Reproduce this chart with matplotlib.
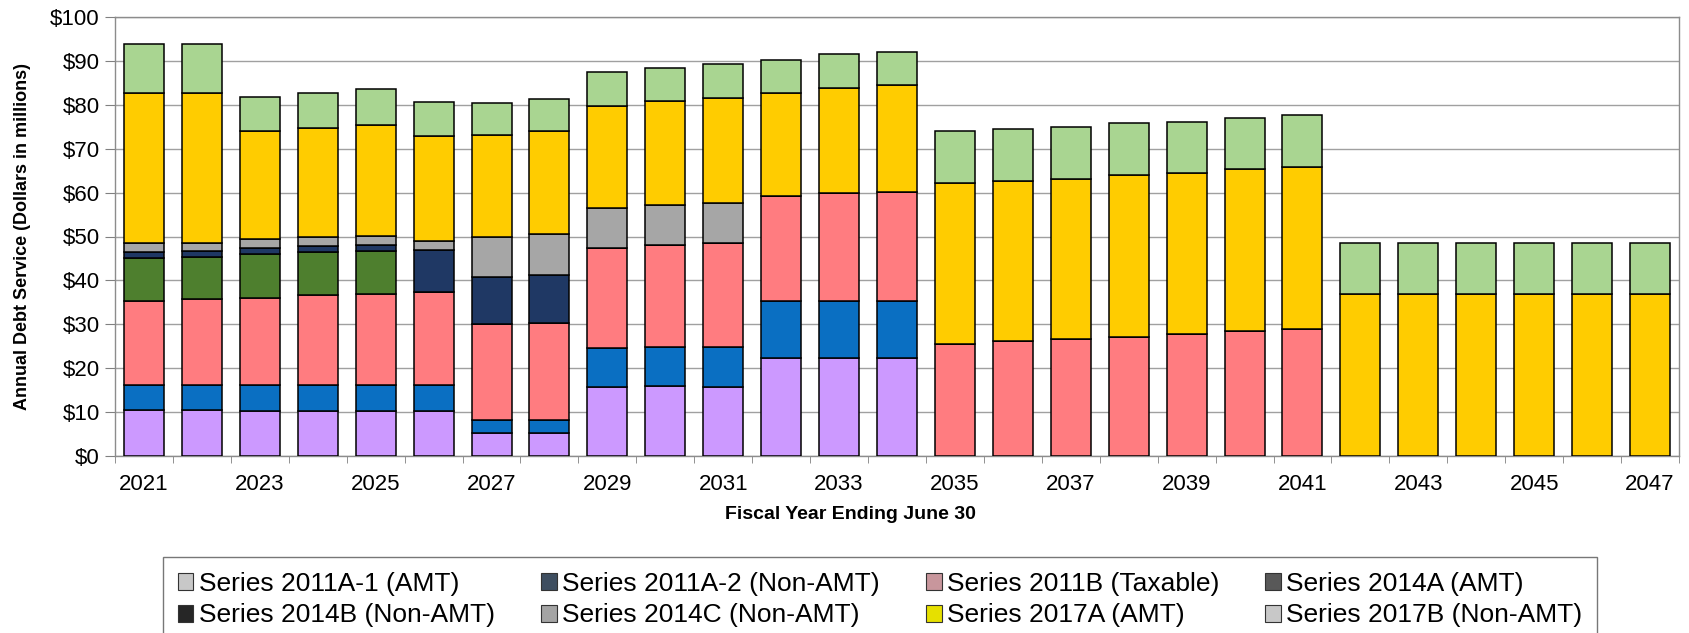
import matplotlib
matplotlib.use("Agg")
import matplotlib.pyplot as plt
from matplotlib.patches import Patch
from matplotlib.ticker import FixedLocator, FuncFormatter
import numpy as np

plt.rcParams['font.family'] = ['Liberation Sans', 'DejaVu Sans']

# fiscal years and annual debt service by bond series ($ millions)
years = list(range(2021, 2048))

s2011a1 = [10.4, 10.4, 10.2, 10.2, 10.2, 10.2, 5.3, 5.3, 15.7, 15.9, 15.7, 22.4, 22.4, 22.3] + [0] * 13
s2011a2 = [5.7, 5.7, 5.9, 5.9, 5.9, 5.9, 2.9, 2.9, 8.8, 8.9, 9.1, 12.8, 13.0, 12.9] + [0] * 13
s2011b = [19.3, 19.7, 20.0, 20.5, 20.9, 21.2, 21.8, 22.0, 22.8, 23.2, 23.7, 24.0, 24.4, 24.9,
          25.4, 26.1, 26.7, 27.1, 27.8, 28.4, 29.0] + [0] * 6
s2014a = [9.7, 9.5, 9.8, 9.8, 9.6] + [0] * 22
s2014b = [1.3, 1.3, 1.4, 1.5, 1.5, 9.7, 10.8, 11.1] + [0] * 19
s2014c = [2.2, 2.0, 2.1, 1.9, 2.1, 2.0, 9.1, 9.3, 9.1, 9.1, 9.2] + [0] * 16
s2017a = [34.1, 34.1, 24.6, 25.0, 25.2, 24.0, 23.2, 23.4, 23.4, 23.7, 23.9, 23.6, 24.0, 24.3,
          36.9, 36.6, 36.5, 36.9, 36.7, 36.9, 36.8] + [36.9] * 6
s2017b = [11.2, 11.2, 7.8, 7.8, 8.2, 7.6, 7.4, 7.4, 7.6, 7.6, 7.8, 7.5, 7.7, 7.7,
          11.7, 11.8, 11.8, 11.8, 11.6, 11.7, 11.8] + [11.7] * 6

series = [
    ("Series 2011A-1 (AMT)", s2011a1, "#CC99FF", "#C8C8C8"),
    ("Series 2011A-2 (Non-AMT)", s2011a2, "#0A6FC2", "#3E4E60"),
    ("Series 2011B (Taxable)", s2011b, "#FF7C80", "#C8969C"),
    ("Series 2014A (AMT)", s2014a, "#4E7F2E", "#585858"),
    ("Series 2014B (Non-AMT)", s2014b, "#1F3864", "#262626"),
    ("Series 2014C (Non-AMT)", s2014c, "#A6A6A6", "#A4A4A4"),
    ("Series 2017A (AMT)", s2017a, "#FFCC00", "#E6E000"),
    ("Series 2017B (Non-AMT)", s2017b, "#A9D591", "#C8C8C8"),
]

fig = plt.figure(figsize=(16.9, 6.33), dpi=100)
ax = fig.add_axes([115 / 1690, 1 - 456 / 633, 1564 / 1690, 439 / 633])

x = np.arange(len(years))
bottom = np.zeros(len(years))
handles = []
for name, vals, col, legcol in series:
    v = np.array(vals, dtype=float)
    ax.bar(x, v, width=0.69, bottom=bottom, color=col, edgecolor='black',
           linewidth=1.1, zorder=3)
    bottom += v
    handles.append(Patch(facecolor=legcol, edgecolor='#333333', linewidth=0.8, label=name))

ax.set_xlim(-0.5, len(years) - 0.5)
ax.set_ylim(0, 100)
ax.set_yticks(np.arange(0, 101, 10))
ax.yaxis.set_major_formatter(FuncFormatter(lambda v, p: f"${v:.0f}"))
ax.grid(axis='y', color='#A0A0A0', linewidth=1.0, zorder=0)

ax.xaxis.set_major_locator(FixedLocator(x[::2]))
ax.set_xticklabels([str(y) for y in years[::2]])
ax.xaxis.set_minor_locator(FixedLocator(np.arange(-0.5, len(years), 1.0)))
ax.tick_params(axis='x', which='major', length=0, pad=13, labelsize=16)
ax.tick_params(axis='x', which='minor', length=5, color='#808080', direction='out')
ax.tick_params(axis='y', length=7, color='#808080', labelsize=16, pad=4)

for s in ax.spines.values():
    s.set_color('#8C8C8C')
    s.set_linewidth(1.0)

ax.set_ylabel("Annual Debt Service (Dollars in millions)", fontsize=13, fontweight='bold')
ax.yaxis.set_label_coords(-0.054, 0.5)
ax.set_xlabel("Fiscal Year Ending June 30", fontsize=14, fontweight='bold')
ax.xaxis.set_label_coords((850 - 115) / 1564, -0.115)

# legend in row-major order across four columns
order = [0, 4, 1, 5, 2, 6, 3, 7]
leg = fig.legend([handles[i] for i in order], [handles[i].get_label() for i in order],
                 ncol=4, loc='upper left', bbox_to_anchor=(163 / 1690, 1 - 557 / 633),
                 fontsize=19, frameon=True, fancybox=False, edgecolor='#555555',
                 handlelength=0.6, handleheight=0.6, handletextpad=0.2,
                 columnspacing=1.75, labelspacing=0.3, borderpad=0.55, borderaxespad=0)
leg.get_frame().set_linewidth(1.0)

fig.savefig("out.png", dpi=100)
